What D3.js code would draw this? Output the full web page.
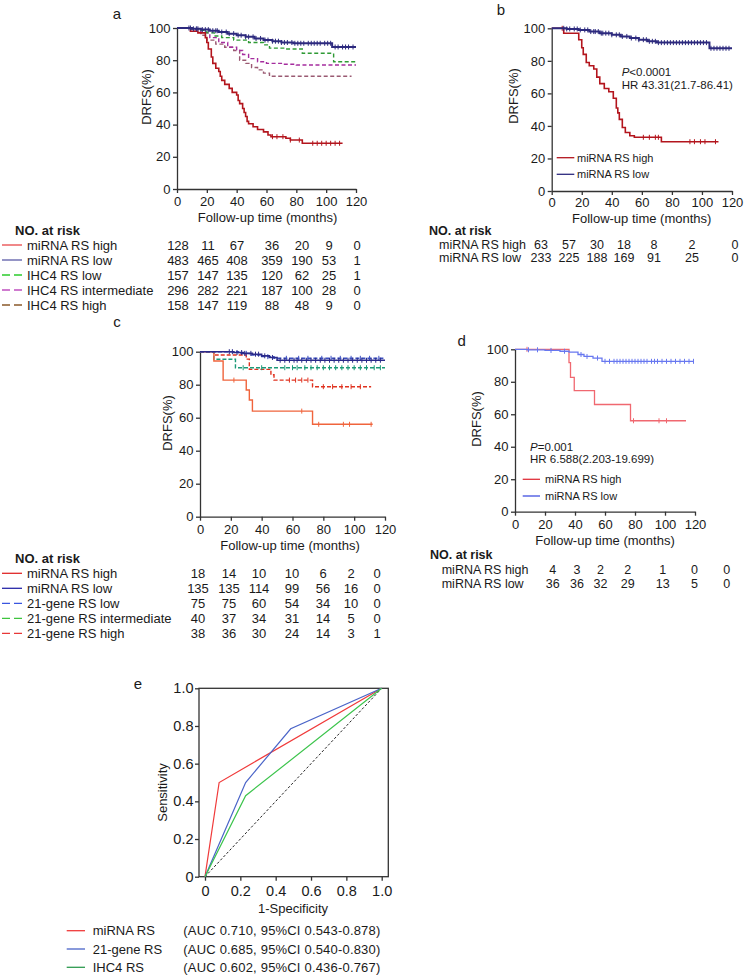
<!DOCTYPE html>
<html lang="en">
<head>
<meta charset="utf-8">
<script src="https://cdn.jsdelivr.net/npm/d3@7"></script>
<style>
body{margin:0;background:#fff;}
svg text{font-family:"Liberation Sans",Arial,Helvetica,sans-serif;fill:#1a1a1a;}
</style>
</head>
<body>
<svg width="747" height="977"></svg>
<script>
// ---------- data ----------
var kmMonths = [0, 20, 40, 60, 80, 100, 120];
var rocTicks = [0, 0.2, 0.4, 0.6, 0.8, 1.0];

// panel a : [month, DRFS %]
var aHigh = [[0,100],[9,98],[14,97],[19,94],[20,91],[21,87],[23,82],[24,78],[26,75],[28,73],[29,70],[30,67.5],[32,65],[35,62.5],[37,60],[40,58.4],[41,55],[42,53],[44,50],[45,47.5],[46,45],[47,42],[48,40.5],[51,38.7],[54,37],[58,35.5],[61,33.5],[63,32.5],[73,31.5],[76,30.4],[84,28.4],[111,28.4]];
var aHighCens = [64,67,71,76,82,91,94,97,100,103,106,109];
var aLow = [[0,100],[10,99.5],[16,99],[22,98.3],[28,97.5],[34,96.5],[40,95.5],[46,94.5],[52,93.5],[58,92.5],[64,91.8],[70,91],[78,90.5],[104,88.2],[120,88.2]];
var aLowCens = [8,9,11,13,14,17,19,21,24,26,27,30,33,35,38,41,43,46,48,51,53,56,59,61,64,66,68,70,72,74,77,79,81,83,85,88,90,92,94,96,99,101,103,106,108,111,113,115,118];
var aIhcLow = [[0,100],[10,99.5],[16,98.5],[20,97],[25,95],[30,94],[38,92.5],[48,91],[58,89.5],[62,87.5],[72,87],[84,84.3],[105,79],[120,79]];
var aIhcInt = [[0,100],[10,99],[16,97],[22,94],[28,91],[34,88],[40,86],[44,83.5],[48,81],[54,79],[60,78],[70,77.5],[80,77],[120,77]];
var aIhcHigh = [[0,100],[10,98],[16,95.5],[20,92.5],[26,90],[32,88],[38,86],[42,80],[46,78],[50,75.5],[54,74],[58,72],[62,70],[117,70]];
var aRiskLabels = ["miRNA RS high", "miRNA RS low", "IHC4 RS low", "IHC4 RS intermediate", "IHC4 RS high"];
var aRisk = [[128,11,67,36,20,9,0],[483,465,408,359,190,53,1],[157,147,135,120,62,25,1],[296,282,221,187,100,28,0],[158,147,119,88,48,9,0]];

// panel b
var bHigh = [[0,100],[8,97],[18,93],[20,88],[21,84],[23,79],[25,77],[28,75],[30,70],[32,66],[35,63],[38,61],[41,57],[43,51],[44,48],[45,44],[47,39],[49,36],[52,34],[55,33],[73,30.3],[111,30.3]];
var bHighCens = [7,61,65,69,71,92,95,99,102,109];
var bLow = [[0,100],[10,99.6],[18,99],[25,98],[32,97],[40,96],[46,95],[52,94],[58,93],[64,92],[70,91.2],[105,87.7],[120,87.7]];
var bLowCens = [8,10,12,15,17,19,22,24,26,28,29,31,33,34,36,38,40,43,45,47,50,53,56,58,61,63,65,67,69,71,73,75,77,79,81,83,85,87,89,91,93,95,97,99,101,103,106,108,110,112,114,116,118];
var bRiskLabels = ["miRNA RS high", "miRNA RS low"];
var bRisk = [[63,57,30,18,8,2,0],[233,225,188,169,91,25,0]];

// panel c
var cHigh = [[0,100],[9,94.4],[15,82.8],[30,76.8],[32,70.7],[34,64],[73,56],[112,56]];
var cHighCens = [22,66,77,93,97,111];
var cLow = [[0,100],[22,99.5],[28,99],[34,98.5],[40,97.5],[45,96.5],[50,94.8],[120,94.8]];
var cLowCens = [19,21,24,27,29,33,36,38,42,47,52,55,58,61,63,66,69,72,75,78,81,84,87,90,93,96,99,102,105,108,111,114,117];
var c21Low = [[0,100],[25,99],[32,98],[40,97],[48,96],[120,96]];
var c21LowCens = [30,44,56,64,70,79,85,91,98,104,110,116];
var c21Int = [[0,100],[9,95.4],[23,90.3],[120,90.3]];
var c21IntCens = [28,40,55,60,63,68,72,76,80,84,88,92,96,100,104,108,113,117];
var c21High = [[0,100],[9,98],[30,95.5],[32,89.3],[46,86],[48,82.8],[73,78.8],[111,78.8]];
var c21HighCens = [58,62,66,70,80,86,92,98,104];
var cRiskLabels = ["miRNA RS high", "miRNA RS low", "21-gene RS low", "21-gene RS intermediate", "21-gene RS high"];
var cRisk = [[18,14,10,10,6,2,0],[135,135,114,99,56,16,0],[75,75,60,54,34,10,0],[40,37,34,31,14,5,0],[38,36,30,24,14,3,1]];

// panel d
var dHigh = [[0,100],[36,91.8],[37,82.7],[39.5,74.5],[53,66],[77,56],[114,56]];
var dHighCens = [8,79,96,101];
var dLow = [[0,100],[8,99.7],[20,99.3],[30,98.8],[36,98.2],[42,96.8],[46,95.6],[52,94.6],[58,92.6],[119,92.6]];
var dLowCens = [9,15,24,33,44,48,55,60,63,66,68,70,72,74,76,78,80,82,84,86,88,91,93,95,98,101,104,107,110,113,116,119];
var dRiskLabels = ["miRNA RS high", "miRNA RS low"];
var dRisk = [[4,3,2,2,1,0,0],[36,36,32,29,13,5,0]];

// panel e : ROC [1-specificity, sensitivity]
var rocMirna = [[0,0],[0.08,0.50],[1,1]];
var roc21 = [[0,0],[0.23,0.50],[0.485,0.785],[1,1]];
var rocIhc4 = [[0,0],[0.23,0.43],[1,1]];
var rocRef = [[0,0],[1,1]];
var rocLabels = ["miRNA RS", "21-gene RS", "IHC4 RS"];
var rocAuc = ["(AUC 0.710, 95%CI 0.543-0.878)", "(AUC 0.685, 95%CI 0.540-0.830)", "(AUC 0.602, 95%CI 0.436-0.767)"];

// ---------- drawing ----------
var svg = d3.select("svg");
var axisCol = "#333";

function survAt(pts, t) {
  var v = pts[0][1];
  pts.forEach(function(p) { if (p[0] <= t) v = p[1]; });
  return v;
}

function styleAxis(g, fs) {
  g.select(".domain").attr("stroke", axisCol).attr("stroke-width", 1.3);
  g.selectAll(".tick line").attr("stroke", axisCol).attr("stroke-width", 1.3);
  g.selectAll(".tick text").attr("font-size", fs).attr("fill", "#1a1a1a");
}

function drawKM(p) {
  var x = d3.scaleLinear().domain([0, 120]).range(p.xr);
  var y = d3.scaleLinear().domain([0, 100]).range(p.yr);
  var g = svg.append("g");

  var gx = g.append("g").attr("transform", "translate(0," + p.yr[0] + ")")
    .call(d3.axisBottom(x).tickValues(kmMonths).tickSize(4).tickSizeOuter(0).tickPadding(p.xpad || 4));
  styleAxis(gx, 13);
  var gy = g.append("g").attr("transform", "translate(" + p.xr[0] + ",0)")
    .call(d3.axisLeft(y).ticks(5).tickSize(4).tickSizeOuter(0).tickPadding(2.5));
  styleAxis(gy, 13);

  var line = d3.line().x(function(d) { return x(d[0]); }).y(function(d) { return y(d[1]); })
    .curve(d3.curveStepAfter);

  p.curves.forEach(function(c) {
    g.append("path").attr("d", line(c.pts)).attr("fill", "none")
      .attr("stroke", c.color).attr("stroke-width", c.w || 1.4)
      .attr("stroke-dasharray", c.dash || null);
    if (c.cens) {
      g.selectAll(null).data(c.cens).enter().append("line")
        .attr("x1", function(t) { return x(t); }).attr("x2", function(t) { return x(t); })
        .attr("y1", function(t) { return y(survAt(c.pts, t)) - 2.5; })
        .attr("y2", function(t) { return y(survAt(c.pts, t)) + 2.5; })
        .attr("stroke", c.color).attr("stroke-width", 1);
    }
  });

  g.append("text").attr("transform", "translate(" + p.yl[0] + "," + p.yl[1] + ") rotate(-90)")
    .attr("text-anchor", "middle").attr("dy", "0.35em").attr("font-size", 13).text("DRFS(%)");
  g.append("text").attr("x", p.xl[0]).attr("y", p.xl[1]).attr("text-anchor", "middle")
    .attr("font-size", 13).text("Follow-up time (months)");
  g.append("text").attr("x", p.letter[0]).attr("y", p.letter[1]).attr("dy", "0.35em")
    .attr("text-anchor", "middle").attr("font-size", 15).text(p.name);

  if (p.legend) {
    p.legend.items.forEach(function(it, i) {
      var ly = p.legend.y[i];
      g.append("line").attr("x1", p.legend.x[0]).attr("x2", p.legend.x[1]).attr("y1", ly).attr("y2", ly)
        .attr("stroke", it.color).attr("stroke-width", 1.3);
      g.append("text").attr("x", p.legend.tx).attr("y", ly).attr("dy", "0.35em")
        .attr("font-size", 11).text(it.label);
    });
  }
  if (p.note) {
    var t1 = g.append("text").attr("x", p.note.x).attr("y", p.note.y[0]).attr("dy", "0.35em").attr("font-size", 11.5);
    t1.append("tspan").attr("font-style", "italic").text("P");
    t1.append("tspan").text(p.note.p);
    g.append("text").attr("x", p.note.x).attr("y", p.note.y[1]).attr("dy", "0.35em")
      .attr("font-size", 11.5).text(p.note.hr);
  }
}

function drawRisk(t) {
  var cx = d3.scaleLinear().domain(kmMonths).range(t.cols);
  var fs = t.fs || 13;
  var g = svg.append("g");
  g.append("text").attr("x", t.tx).attr("y", t.ty).attr("dy", "0.35em")
    .attr("font-size", fs).attr("font-weight", "bold").text("NO. at risk");
  t.labels.forEach(function(lab, i) {
    var ry = t.rows[i];
    if (t.swatch) {
      g.append("line").attr("x1", 2).attr("x2", 22).attr("y1", ry).attr("y2", ry)
        .attr("stroke", t.swatch[i].color).attr("stroke-width", 1.3)
        .attr("stroke-dasharray", t.swatch[i].dash ? "8,4" : null);
    }
    g.append("text").attr("x", t.lx).attr("y", ry).attr("dy", "0.35em").attr("font-size", fs).text(lab);
    g.selectAll(null).data(t.values[i]).enter().append("text")
      .attr("x", function(d, j) { return cx(kmMonths[j]); })
      .attr("y", ry).attr("dy", "0.35em").attr("text-anchor", "middle").attr("font-size", fs)
      .text(function(d) { return d; });
  });
}

// panel a
drawKM({
  name: "a", xr: [177, 356], yr: [189, 28], yl: [146, 97], xl: [267.5, 221.5], letter: [117, 14],
  xpad: 3.5,
  curves: [
    {pts: aIhcHigh, color: "#9a5a72", dash: "4,2.5"},
    {pts: aIhcInt, color: "#a52d9e", dash: "4,2.5"},
    {pts: aIhcLow, color: "#2f9a35", dash: "4,2.5"},
    {pts: aHigh, color: "#b3151d", w: 1.6, cens: aHighCens},
    {pts: aLow, color: "#2d2a7e", w: 2, cens: aLowCens}
  ]
});
drawRisk({
  tx: 15, ty: 230, lx: 27, rows: [245, 260, 275, 290, 305],
  cols: [178, 208, 237, 272, 302, 329, 357],
  labels: aRiskLabels, values: aRisk,
  swatch: [{color: "#e8484a"}, {color: "#5b5ba8"}, {color: "#2ccc2c", dash: 1}, {color: "#c050c0", dash: 1}, {color: "#8a5a2a", dash: 1}]
});

// panel b
drawKM({
  name: "b", xr: [551.7, 732], yr: [191, 28.3], yl: [513, 96], xl: [641.7, 223], letter: [501, 10],
  xpad: 3,
  curves: [
    {pts: bHigh, color: "#b3151d", w: 1.6, cens: bHighCens},
    {pts: bLow, color: "#2d2a7e", w: 2, cens: bLowCens}
  ],
  legend: {x: [556.7, 574.3], tx: 577, y: [157.7, 174.3],
    items: [{label: "miRNA RS high", color: "#b3151d"}, {label: "miRNA RS low", color: "#2d2a7e"}]},
  note: {x: 621.7, y: [71.7, 85], p: "<0.0001", hr: "HR 43.31(21.7-86.41)"}
});
drawRisk({
  tx: 429, ty: 231, lx: 439, rows: [244.5, 258], fs: 12.5,
  cols: [541, 569, 597, 624, 654, 692, 735],
  labels: bRiskLabels, values: bRisk
});

// panel c
drawKM({
  name: "c", xr: [200, 385], yr: [516.7, 351.7], yl: [167.5, 423], xl: [290, 549.5], letter: [117, 322],
  curves: [
    {pts: c21High, color: "#e0321f", dash: "4,2", cens: c21HighCens},
    {pts: c21Int, color: "#1c9a78", dash: "4,2", cens: c21IntCens},
    {pts: cHigh, color: "#f0643c", w: 1.4, cens: cHighCens},
    {pts: c21Low, color: "#3a4ec0", dash: "4,2", cens: c21LowCens},
    {pts: cLow, color: "#2a2a8a", w: 1.6, cens: cLowCens}
  ]
});
drawRisk({
  tx: 15, ty: 558.3, lx: 27, rows: [573.3, 588.3, 603.3, 618.3, 633.3],
  cols: [198, 229, 259, 292, 323, 351, 377],
  labels: cRiskLabels, values: cRisk,
  swatch: [{color: "#e02828"}, {color: "#2828a8"}, {color: "#3a56e0", dash: 1}, {color: "#3ec43e", dash: 1}, {color: "#e83838", dash: 1}]
});

// panel d
drawKM({
  name: "d", xr: [515, 695], yr: [511.7, 349.3], yl: [476, 419], xl: [605, 544.5], letter: [461.7, 341],
  curves: [
    {pts: dHigh, color: "#f06870", w: 1.3, cens: dHighCens},
    {pts: dLow, color: "#6878f0", w: 1.3, cens: dLowCens}
  ],
  legend: {x: [522.7, 540], tx: 545, y: [479.3, 496],
    items: [{label: "miRNA RS high", color: "#e0303a"}, {label: "miRNA RS low", color: "#4050e0"}]},
  note: {x: 530, y: [446.7, 459.3], p: "=0.001", hr: "HR 6.588(2.203-19.699)"}
});
drawRisk({
  tx: 430, ty: 554.5, lx: 441.7, rows: [569.5, 584], fs: 12.5,
  cols: [552.7, 577, 600.5, 627.7, 662.8, 694.5, 726.7],
  labels: dRiskLabels, values: dRisk
});

// panel e : ROC
(function() {
  var x = d3.scaleLinear().domain([0, 1]).range([205, 381.7]);
  var y = d3.scaleLinear().domain([0, 1]).range([876.7, 688.3]);
  var g = svg.append("g");
  var fmt = function(d) { return d === 0 ? "0" : d3.format(".1f")(d); };

  var gx = g.append("g").attr("transform", "translate(0," + y(0) + ")")
    .call(d3.axisBottom(x).tickValues(rocTicks).tickFormat(fmt).tickSize(4).tickPadding(5));
  styleAxis(gx, 14.5);
  gx.select(".domain").remove();
  var gy = g.append("g").attr("transform", "translate(199,0)")
    .call(d3.axisLeft(y).tickValues(rocTicks).tickFormat(fmt).tickSize(4).tickPadding(1.5));
  styleAxis(gy, 14.5);
  gy.select(".domain").remove();

  g.append("rect").attr("x", 199).attr("y", y(1)).attr("width", 388.3 - 199).attr("height", y(0) - y(1))
    .attr("fill", "none").attr("stroke", axisCol).attr("stroke-width", 1.3);

  var line = d3.line().x(function(d) { return x(d[0]); }).y(function(d) { return y(d[1]); });
  g.append("path").attr("d", line(rocRef)).attr("fill", "none").attr("stroke", "#222")
    .attr("stroke-width", 1).attr("stroke-dasharray", "2.5,2");
  var rocColors = ["#f03a3a", "#4a64c8", "#3cc44c"];
  [rocMirna, roc21, rocIhc4].forEach(function(pts, i) {
    g.append("path").attr("d", line(pts)).attr("fill", "none")
      .attr("stroke", rocColors[i]).attr("stroke-width", 1.2);
  });

  g.append("text").attr("transform", "translate(162.5,792.5) rotate(-90)")
    .attr("text-anchor", "middle").attr("dy", "0.35em").attr("font-size", 13).text("Sensitivity");
  g.append("text").attr("x", 293).attr("y", 912.5).attr("text-anchor", "middle")
    .attr("font-size", 13).text("1-Specificity");
  g.append("text").attr("x", 138).attr("y", 684).attr("dy", "0.35em")
    .attr("text-anchor", "middle").attr("font-size", 15).text("e");

  var legY = [930.7, 949, 967.3];
  var legCols = ["#f03a3a", "#4a64c8", "#2e9a50"];
  rocLabels.forEach(function(lab, i) {
    g.append("line").attr("x1", 66.7).attr("x2", 85).attr("y1", legY[i]).attr("y2", legY[i])
      .attr("stroke", legCols[i]).attr("stroke-width", 1.3);
    g.append("text").attr("x", 92.7).attr("y", legY[i]).attr("dy", "0.35em").attr("font-size", 13).text(lab);
    g.append("text").attr("x", 183.3).attr("y", legY[i]).attr("dy", "0.35em").attr("font-size", 13)
      .attr("textLength", 197).attr("lengthAdjust", "spacing").text(rocAuc[i]);
  });
})();
</script>
</body>
</html>
